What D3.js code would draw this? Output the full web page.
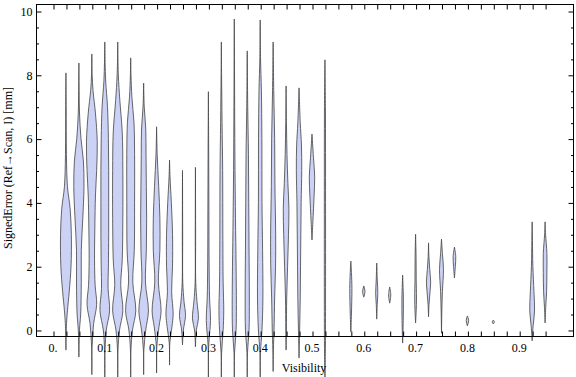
<!DOCTYPE html>
<html>
<head>
<meta charset="utf-8">
<script src="https://cdn.jsdelivr.net/npm/d3@7"></script>
<style>
  body { margin: 0; background: #fff; }
  text { font-family: "Liberation Serif", "Times New Roman", serif; }
</style>
</head>
<body>
<svg id="chart" width="576" height="377"></svg>
<script>
// visibility bins (one violin each)
const visibility = [0.025, 0.05, 0.075, 0.1, 0.125, 0.15, 0.175, 0.2, 0.225, 0.25, 0.275,
    0.3, 0.325, 0.35, 0.375, 0.4, 0.425, 0.45, 0.475, 0.5, 0.525,
    0.575, 0.6, 0.625, 0.65, 0.675, 0.7, 0.725, 0.75, 0.775, 0.8, 0.85, 0.925, 0.95];

// density profiles: [signed error, relative density]
const densityProfiles = [
    [[-0.63,0],[0.2,0.1],[0.6,0.25],[1.2,0.55],[2,0.85],[3,0.9],[3.8,0.7],[4.5,0.25],[5.5,0.08],[7,0.04],[8.06,0]],
    [[-0.85,0],[0,0.1],[0.5,0.3],[1.5,0.4],[2.5,0.4],[3.5,0.65],[4.5,0.85],[5.3,0.75],[6,0.35],[6.8,0.1],[7.5,0.04],[8.37,0]],
    [[-1.4,0],[-0.5,0.05],[0.2,0.3],[0.8,0.8],[1.4,0.55],[2.2,0.45],[3.2,0.5],[4.2,0.6],[5,0.8],[5.9,0.9],[6.8,0.6],[7.5,0.2],[8,0.05],[8.65,0]],
    [[-1.6,0],[-0.6,0.05],[0,0.25],[0.6,0.8],[1.3,0.55],[2,0.6],[3,0.65],[4,0.65],[5,0.65],[6,0.6],[7,0.45],[7.8,0.15],[8.4,0.05],[9.03,0]],
    [[-1.6,0],[-0.6,0.05],[0,0.3],[0.6,0.85],[1.4,0.5],[2.2,0.75],[3.5,0.85],[5,0.85],[6.2,0.75],[7.2,0.35],[8,0.1],[9.03,0]],
    [[-1.6,0],[-0.6,0.05],[0,0.3],[0.6,0.85],[1.5,0.35],[2.5,0.6],[4,0.65],[5.5,0.65],[6.5,0.55],[7.3,0.2],[8,0.05],[8.53,0]],
    [[-1.4,0],[-0.6,0.05],[0,0.35],[0.6,0.8],[1.5,0.3],[2.5,0.45],[3.5,0.5],[4.5,0.45],[5.5,0.4],[6.3,0.35],[7,0.1],[7.74,0]],
    [[-1.35,0],[-0.5,0.05],[0.1,0.4],[0.6,0.75],[1.5,0.3],[2.5,0.55],[3.5,0.55],[4.5,0.35],[5.5,0.1],[6.37,0]],
    [[-1.1,0],[-0.4,0.05],[0.1,0.4],[0.5,0.6],[1.2,0.35],[2,0.5],[3,0.5],[4,0.3],[4.8,0.08],[5.33,0]],
    [[-0.47,0],[0,0.15],[0.45,0.5],[0.9,0.25],[1.5,0.05],[3,0.03],[5,0]],
    [[-0.53,0],[0,0.15],[0.35,0.5],[0.9,0.25],[1.5,0.05],[3,0.03],[5.1,0]],
    [[-1.6,0],[-0.5,0.05],[0.3,0.35],[1,0.2],[2,0.12],[4,0.08],[6,0.04],[7.47,0]],
    [[-1.6,0],[-0.7,0.05],[0,0.3],[0.6,0.4],[1.5,0.3],[3,0.25],[5,0.22],[6.5,0.12],[8,0.04],[9.03,0]],
    [[-1.6,0],[-0.7,0.05],[0,0.3],[0.8,0.35],[2,0.3],[3.5,0.2],[5,0.12],[7,0.06],[8.5,0.03],[9.75,0]],
    [[-1.6,0],[-0.7,0.05],[0,0.3],[1,0.35],[2.5,0.3],[4,0.25],[5.5,0.2],[7,0.08],[8.75,0]],
    [[-1.6,0],[-0.7,0.05],[0,0.3],[1,0.45],[2.5,0.4],[4,0.3],[6,0.28],[7.5,0.2],[8.5,0.06],[9.72,0]],
    [[-1.3,0],[-0.6,0.05],[0,0.15],[1,0.25],[2,0.4],[3,0.42],[4.5,0.3],[6,0.25],[7.5,0.1],[9.03,0]],
    [[-0.63,0],[0,0.05],[1,0.1],[2,0.25],[3,0.4],[3.8,0.47],[4.6,0.3],[5.5,0.15],[6.5,0.06],[7.65,0]],
    [[-0.88,0],[0,0.1],[1,0.2],[2,0.25],[3,0.3],[4,0.35],[5,0.45],[5.8,0.4],[6.5,0.2],[7.59,0]],
    [[2.82,0],[3.4,0.15],[4.2,0.35],[4.8,0.45],[5.4,0.25],[6.14,0]],
    [[-1.6,0],[-0.5,0.08],[1,0.1],[4,0.1],[7,0.08],[8.47,0]],
    [[-0.06,0],[0.5,0.1],[1.3,0.18],[1.8,0.1],[2.16,0]],
    [[1.03,0],[1.2,0.2],[1.38,0]],
    [[0.34,0],[0.8,0.08],[1.15,0.18],[1.6,0.08],[2.1,0]],
    [[0.84,0],[1.1,0.18],[1.35,0]],
    [[-0.41,0],[0.3,0.1],[1,0.12],[1.72,0]],
    [[0.22,0],[0.6,0.1],[1.0,0.15],[1.6,0.1],[2.3,0.08],[3.0,0]],
    [[0.41,0],[0.8,0.08],[1.2,0.25],[1.5,0.35],[1.9,0.2],[2.3,0.06],[2.73,0]],
    [[-0.1,0],[0.5,0.05],[1.2,0.15],[1.9,0.33],[2.4,0.15],[2.85,0]],
    [[1.63,0],[2,0.15],[2.3,0.22],[2.6,0]],
    [[0.13,0],[0.3,0.2],[0.44,0]],
    [[0.19,0],[0.25,0.18],[0.31,0]],
    [[-0.34,0],[0.1,0.15],[0.6,0.4],[1.2,0.3],[2,0.12],[2.8,0.05],[3.39,0]],
    [[0.22,0],[0.7,0.1],[1.2,0.25],[1.8,0.3],[2.4,0.3],[3,0.08],[3.39,0]]
];

// 刻度
const xTickValues = d3.range(0, 39).map(i => i * 0.025);
const xLabelValues = [0, 0.1, 0.2, 0.3, 0.4, 0.5, 0.6, 0.7, 0.8, 0.9];
const xLabelText = ['0.', '0.1', '0.2', '0.3', '0.4', '0.5', '0.6', '0.7', '0.8', '0.9'];
const yMajorValues = [0, 2, 4, 6, 8, 10];
const yMinorValues = d3.range(0, 21).map(i => i * 0.5).filter(v => v % 2 !== 0);

const width = 576, height = 377;
const frame = {left: 36, right: 574, top: 4, bottom: 337};

const svg = d3.select('#chart');

const x = d3.scaleLinear().domain([-0.0328, 1.0058]).range([frame.left, frame.right]);
const y = d3.scaleLinear().domain([-0.22, 10.22]).range([frame.bottom, frame.top]);
const w = d3.scaleLinear().domain([0, 1]).range([0, 6]);

// violins
const area = d3.area()
    .curve(d3.curveCatmullRom.alpha(0.5));

svg.append('g')
    .attr('class', 'violins')
    .selectAll('path')
    .data(visibility)
    .enter()
    .append('path')
    .attr('d', (v, i) => area
        .y(d => y(d[0]))
        .x0(d => x(v) - w(d[1]))
        .x1(d => x(v) + w(d[1]))(densityProfiles[i]))
    .attr('fill', '#cbd2f6')
    .attr('stroke', '#444')
    .attr('stroke-opacity', 0.8)
    .attr('stroke-width', 1);

// frame
svg.append('rect')
    .attr('x', frame.left + 0.5)
    .attr('y', frame.top + 0.5)
    .attr('width', frame.right - frame.left - 1)
    .attr('height', frame.bottom - frame.top - 1)
    .attr('fill', 'none')
    .attr('stroke', '#000')
    .attr('stroke-width', 1);

const cleanAxis = g => {
    g.select('.domain').remove();
    g.selectAll('line').attr('stroke', '#000');
};

// x ticks bottom & top
svg.append('g')
    .attr('transform', `translate(0.5,${frame.bottom - 0.5})`)
    .call(d3.axisBottom(x).tickValues(xTickValues).tickSize(-5).tickFormat(''))
    .call(cleanAxis);
svg.append('g')
    .attr('transform', `translate(0.5,${frame.top + 0.5})`)
    .call(d3.axisTop(x).tickValues(xTickValues).tickSize(-5).tickFormat(''))
    .call(cleanAxis);

// x labels
svg.append('g')
    .selectAll('text')
    .data(xLabelValues)
    .enter()
    .append('text')
    .attr('x', d => x(d))
    .attr('y', 352)
    .attr('text-anchor', 'middle')
    .style('font-size', '12px')
    .text((d, i) => xLabelText[i]);

// y ticks left & right
[[d3.axisLeft, frame.left + 0.5], [d3.axisRight, frame.right - 0.5]].forEach(([axisFn, pos], k) => {
    svg.append('g')
        .attr('transform', `translate(${pos},0.5)`)
        .call(axisFn(y).tickValues(yMajorValues).tickSize(-5).tickPadding(4)
            .tickFormat(k === 0 ? d3.format('d') : ''))
        .call(cleanAxis)
        .call(g => g.selectAll('text')
            .style('font-family', '"Liberation Serif", serif')
            .style('font-size', '12px')
            .attr('fill', '#000'));
    svg.append('g')
        .attr('transform', `translate(${pos},0.5)`)
        .call(axisFn(y).tickValues(yMinorValues).tickSize(-2.5).tickFormat(''))
        .call(cleanAxis);
});

// axis titles
svg.append('text')
    .attr('x', 304)
    .attr('y', 372)
    .attr('text-anchor', 'middle')
    .style('font-size', '12px')
    .text('Visibility');

svg.append('text')
    .attr('transform', 'translate(12,168) rotate(-90)')
    .attr('text-anchor', 'middle')
    .style('font-size', '12px')
    .text('SignedError (Ref\u2192Scan, I) [mm]');
</script>
</body>
</html>
